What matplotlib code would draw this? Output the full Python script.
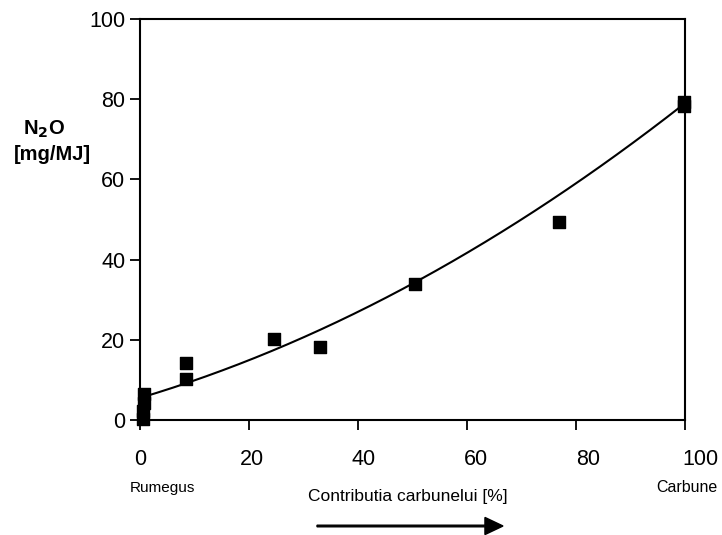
import numpy as np
import matplotlib
matplotlib.use("Agg")
import matplotlib.pyplot as plt
from matplotlib.transforms import ScaledTranslation

plt.rcParams['font.family'] = ['Liberation Sans', 'DejaVu Sans']

# Measured N2O emissions vs. coal share in the blend
coal_share = [0.5, 0.5, 0.8, 0.8, 8.5, 8.5, 24.5, 33.0, 50.5, 76.8, 99.8, 99.8]
n2o = [0.3, 2.3, 4.3, 6.5, 10.2, 14.1, 20.1, 18.3, 33.8, 49.4, 78.4, 79.2]

# Quadratic trend line coefficients (c0 + c1*x + c2*x^2)
fit_c0, fit_c1, fit_c2 = 5.5, 0.405, 0.0033

xticks = [0, 20, 40, 60, 80, 100]
yticks = [0, 20, 40, 60, 80, 100]

fig = plt.figure(figsize=(7.22, 5.35), dpi=100)
ax = fig.add_axes([140/722, 1 - 420/535, 545/722, 401/535])

xs = np.linspace(0, 100, 200)
ax.plot(xs, fit_c0 + fit_c1 * xs + fit_c2 * xs**2, color='black', lw=1.5, zorder=2)
ax.scatter(coal_share, n2o, marker='s', s=75, color='black', zorder=3, clip_on=False)

ax.set_xlim(0, 100)
ax.set_ylim(0, 100)
ax.set_xticks(xticks)
ax.set_yticks(yticks)
ax.tick_params(axis='both', direction='out', length=7.2, width=1.3, labelsize=15.5)
ax.tick_params(axis='x', pad=14)
ax.tick_params(axis='y', pad=3.5)
for s in ax.spines.values():
    s.set_linewidth(1.5)

# x tick labels sit slightly wider apart than the ticks themselves
for val, lab in zip(xticks, ax.get_xticklabels()):
    lab.set_transform(lab.get_transform() +
                      ScaledTranslation(val * 0.0015, 0, fig.dpi_scale_trans))

fig.text(44/722, 1 - 129/535, r'N$_\mathbf{2}$O', fontsize=14.5, fontweight='bold',
         ha='center', va='center')
fig.text(52/722, 1 - 154/535, '[mg/MJ]', fontsize=14.5, fontweight='bold',
         ha='center', va='center')

fig.text(162/722, 1 - 488/535, 'Rumegus', fontsize=11, ha='center', va='center')
fig.text(687/722, 1 - 488/535, 'Carbune', fontsize=11.5, ha='center', va='center')
fig.text(408/722, 1 - 497/535, 'Contributia carbunelui [%]', fontsize=12.5,
         ha='center', va='center')

fig.add_artist(matplotlib.patches.FancyArrow(
    317/722, 1 - 526/535, 186/722, 0, width=0.003, head_width=0.032,
    head_length=0.025, length_includes_head=True, color='black',
    transform=fig.transFigure))

fig.savefig('out.png', dpi=100)
